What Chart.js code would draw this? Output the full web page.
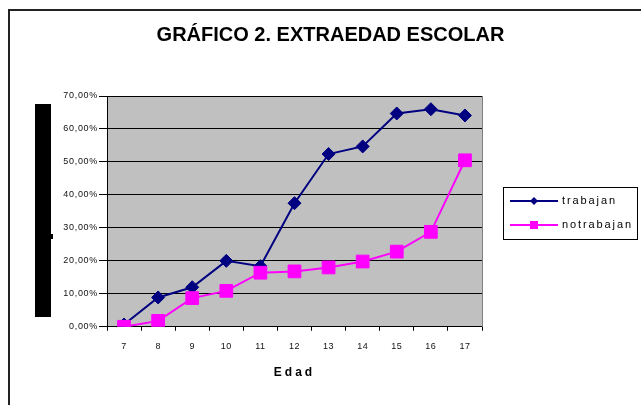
<!DOCTYPE html>
<html>
<head>
<meta charset="utf-8">
<script src="https://cdn.jsdelivr.net/npm/chart.js@4.4.0/dist/chart.umd.min.js"></script>
<style>
  html, body { margin: 0; padding: 0; background: #fff; }
  #wrap { width: 641px; height: 405px; position: relative; }
</style>
</head>
<body>
<div id="wrap"><canvas id="c" width="641" height="405"></canvas></div>
<script>
const ages = ['7', '8', '9', '10', '11', '12', '13', '14', '15', '16', '17'];
const trabajan = [0.7, 8.9, 12.0, 20.0, 18.4, 37.5, 52.4, 54.7, 64.7, 66.0, 64.1];
const noTrabajan = [0, 1.8, 8.7, 10.9, 16.4, 16.8, 18.0, 19.8, 22.8, 28.8, 50.5];
const yTicks = [0, 10, 20, 30, 40, 50, 60, 70];
const seriesNames = ['trabajan', 'notrabajan'];
const chartTitle = 'GRÁFICO 2. EXTRAEDAD ESCOLAR';
const xTitle = 'Edad';

const NAVY = '#000080';
const MAGENTA = '#FF00FF';

function withSpacing(ctx, sp, fn) {
  const prev = ctx.letterSpacing;
  ctx.letterSpacing = sp;
  fn();
  ctx.letterSpacing = prev || '0px';
}

const decorPlugin = {
  id: 'decor',
  afterLayout(chart) {
    const x = chart.scales.x, y = chart.scales.y;
    if (!x._spWrapped) {
      const ot = x.drawTitle;
      x.drawTitle = function (...a) { withSpacing(this.ctx, '3px', () => ot.apply(this, a)); };
      const ol = x.drawLabels;
      x.drawLabels = function (...a) { withSpacing(this.ctx, '0.5px', () => ol.apply(this, a)); };
      x._spWrapped = true;
    }
    if (!y._spWrapped) {
      const ol = y.drawLabels;
      y.drawLabels = function (...a) { withSpacing(this.ctx, '0.7px', () => ol.apply(this, a)); };
      y._spWrapped = true;
    }
  },
  beforeDraw(chart) {
    const ctx = chart.ctx, a = chart.chartArea;
    ctx.save();
    ctx.fillStyle = '#fff';
    ctx.fillRect(0, 0, chart.width, chart.height);
    // outer frame (top and left edges visible)
    ctx.strokeStyle = '#222';
    ctx.lineWidth = 2;
    ctx.beginPath();
    ctx.moveTo(9, chart.height);
    ctx.lineTo(9, 10);
    ctx.lineTo(chart.width, 10);
    ctx.stroke();
    // plot background
    ctx.fillStyle = '#C0C0C0';
    ctx.fillRect(a.left, a.top, a.right - a.left, a.bottom - a.top);
    // black block where the y-axis title was
    ctx.fillStyle = '#000';
    ctx.fillRect(a.left - 72, a.top + 8, 16, 213);
    ctx.fillRect(a.left - 56, a.top + 138, 2, 5);
    ctx.restore();
  },
  beforeDatasetsDraw(chart) {
    const ctx = chart.ctx, a = chart.chartArea;
    ctx.save();
    ctx.strokeStyle = '#808080';
    ctx.lineWidth = 1;
    ctx.beginPath();
    ctx.moveTo(a.right + 0.5, a.top);
    ctx.lineTo(a.right + 0.5, a.bottom);
    ctx.stroke();
    ctx.restore();
  },
  afterDraw(chart) {
    const ctx = chart.ctx, a = chart.chartArea;
    const bx = a.right + 21, bw = 134, bh = 52;
    const by = Math.round((a.top + a.bottom) / 2 + 2 - bh / 2);
    ctx.save();
    ctx.strokeStyle = '#000';
    ctx.lineWidth = 1;
    ctx.strokeRect(bx + 0.5, by + 0.5, bw, bh);
    const rows = [by + 14, by + 38];
    chart.data.datasets.forEach((ds, i) => {
      const ry = rows[i];
      ctx.strokeStyle = ds.borderColor;
      ctx.lineWidth = 2;
      ctx.beginPath();
      ctx.moveTo(bx + 7, ry);
      ctx.lineTo(bx + 55, ry);
      ctx.stroke();
      ctx.fillStyle = ds.backgroundColor;
      ctx.beginPath();
      const cx = bx + 31;
      if (ds.pointStyle === 'rectRot') {
        ctx.moveTo(cx, ry - 4); ctx.lineTo(cx + 4, ry); ctx.lineTo(cx, ry + 4); ctx.lineTo(cx - 4, ry);
        ctx.closePath();
      } else {
        ctx.rect(cx - 4, ry - 4, 8, 8);
      }
      ctx.fill();
      ctx.fillStyle = '#000';
      ctx.font = '11px "Liberation Sans", Arial, sans-serif';
      ctx.textBaseline = 'middle';
      ctx.textAlign = 'left';
      withSpacing(ctx, '1.9px', () => ctx.fillText(ds.label, bx + 59, ry));
    });
    ctx.restore();
  }
};

new Chart(document.getElementById('c'), {
  type: 'line',
  data: {
    labels: ages,
    datasets: [
      {
        label: seriesNames[0],
        data: trabajan,
        borderColor: NAVY,
        backgroundColor: NAVY,
        borderWidth: 2,
        pointStyle: 'rectRot',
        pointRadius: 6.5,
        pointBorderWidth: 1,
        pointBorderColor: NAVY,
        pointBackgroundColor: NAVY,
        tension: 0,
        order: 1
      },
      {
        label: seriesNames[1],
        data: noTrabajan,
        borderColor: MAGENTA,
        backgroundColor: MAGENTA,
        borderWidth: 2,
        pointStyle: 'rect',
        pointRadius: 9,
        pointBorderWidth: 1,
        pointBorderColor: MAGENTA,
        pointBackgroundColor: MAGENTA,
        tension: 0,
        order: 0
      }
    ]
  },
  options: {
    responsive: false,
    animation: false,
    events: [],
    layout: { padding: { left: 20, right: 0, top: 0, bottom: 0 } },
    plugins: {
      legend: { display: false },
      tooltip: { enabled: false },
      title: {
        display: true,
        text: chartTitle,
        color: '#000',
        font: { family: '"Liberation Sans", Arial, sans-serif', size: 20, weight: 'bold', lineHeight: 1.2 },
        padding: { top: 23, bottom: 49 }
      }
    },
    scales: {
      x: {
        type: 'category',
        offset: true,
        grid: { display: true, drawOnChartArea: false, drawTicks: true, tickLength: 4, offset: true, color: '#000' },
        border: { display: true, color: '#000', width: 1 },
        ticks: { color: '#111', padding: 10, maxRotation: 0, autoSkip: false, font: { family: '"Liberation Sans", Arial, sans-serif', size: 9 } },
        title: {
          display: true,
          text: xTitle,
          color: '#000',
          font: { family: '"Liberation Sans", Arial, sans-serif', size: 12, weight: 'bold', lineHeight: 1.2 },
          padding: { top: 4, bottom: 25 }
        }
      },
      y: {
        min: 0,
        max: 70,
        afterBuildTicks(scale) { scale.ticks = yTicks.map(v => ({ value: v })); },
        afterFit(scale) { scale.width = 87; },
        grid: { color: '#000', lineWidth: 1, drawTicks: true, tickLength: 8 },
        border: { display: true, color: '#000', width: 1 },
        ticks: {
          color: '#111',
          padding: 1,
          font: { family: '"Liberation Sans", Arial, sans-serif', size: 9 },
          callback: (v) => v.toFixed(2).replace('.', ',') + '%'
        }
      },
      legendSpace: {
        type: 'linear',
        position: 'right',
        display: true,
        afterFit(scale) { scale.width = 159; },
        grid: { display: false, drawOnChartArea: false },
        border: { display: false },
        ticks: { display: false }
      }
    }
  },
  plugins: [decorPlugin]
});
</script>
</body>
</html>
